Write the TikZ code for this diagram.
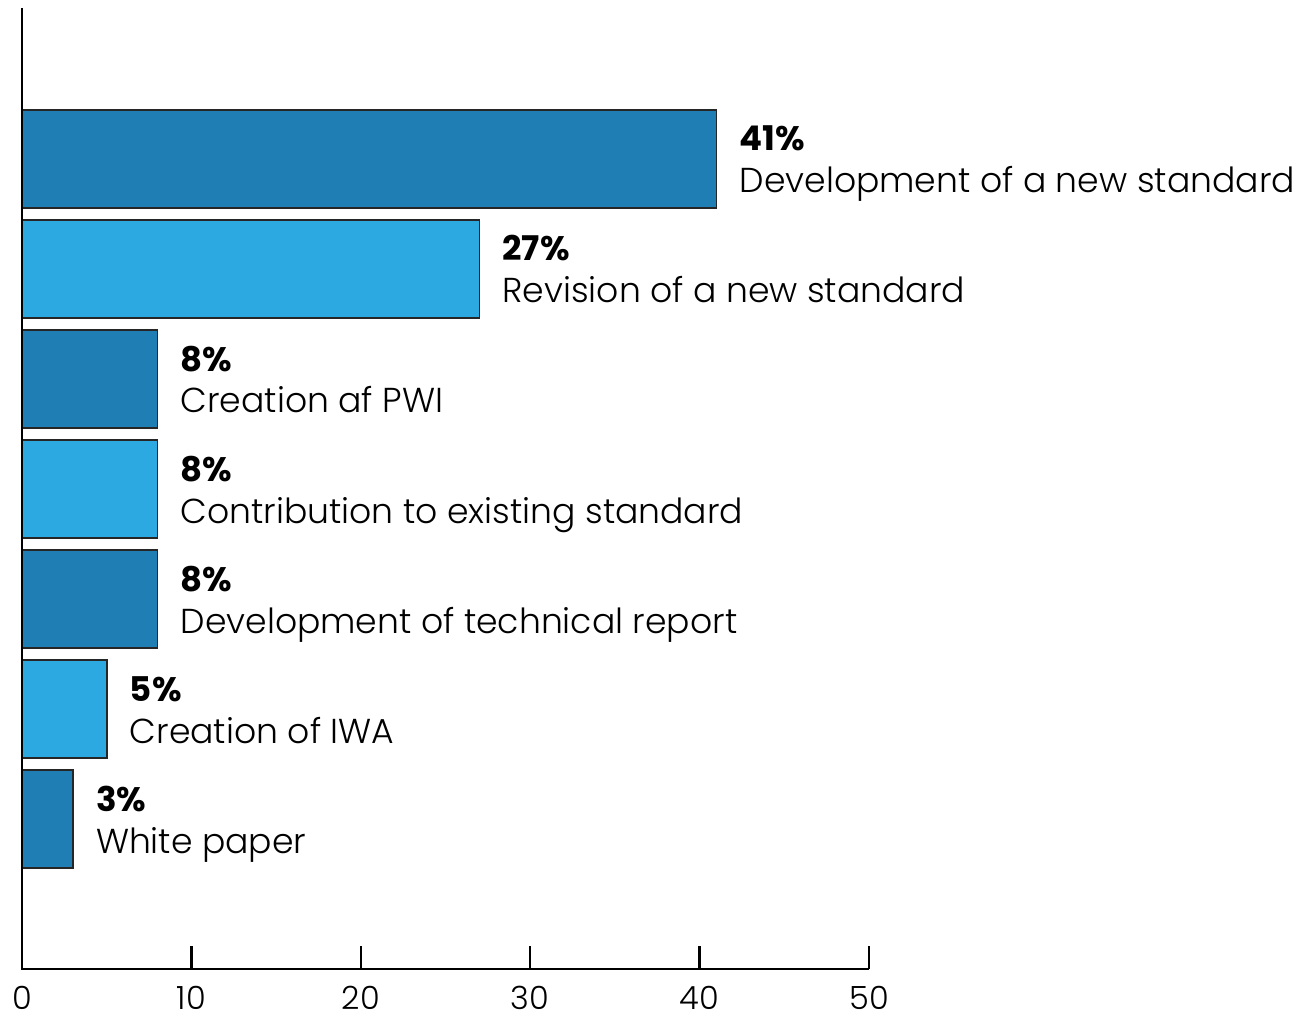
\documentclass[tikz,border=0pt]{standalone}
\usepackage{fontspec}
\setmainfont{Poppins}[UprightFont=* Light, BoldFont=* Bold]
\definecolor{dk}{RGB}{31,127,181}
\definecolor{lt}{RGB}{45,169,225}
\tikzset{
  barbox/.style={draw=black!85, line width=1.6pt},
  pct/.style={font=\fontsize{34}{34}\selectfont\bfseries, inner sep=0pt, anchor=base west},
  desc/.style={font=\fontsize{34.6}{35}\selectfont, inner sep=0pt, anchor=base west},
  ticklab/.style={font=\fontsize{32}{32}\selectfont, inner sep=0pt},
  axis/.style={line width=2.6pt, black}
}
\begin{document}
\begin{tikzpicture}[x=1pt,y=-1pt]
\useasboundingbox (0,0) rectangle (1299,1016);
\def\u{16.94}
\foreach \v/\col/\p/\t [count=\i] in {
  41/dk/41\%/Development of a new standard,
  27/lt/27\%/Revision of a new standard,
  8/dk/8\%/Creation af PWI,
  8/lt/8\%/Contribution to existing standard,
  8/dk/8\%/Development of technical report,
  5/lt/5\%/Creation of IWA,
  3/dk/3\%/White paper}
{
  \pgfmathsetmacro\tp{110+(\i-1)*110}
  \pgfmathsetmacro\xe{22+\v*\u}
  \draw[barbox, fill=\col] (22,\tp) rectangle (\xe,\tp+98);
  \node[pct] (p\i) at (\xe+23,\tp+41) {\p};
  \node[desc] (d\i) at (\xe+23,\tp+83) {\t};
}
% axes
\coordinate (top) at (22,8);
\coordinate (orig) at (22,969);
\coordinate (xend) at (869,969);
\draw[axis] (top) -- (orig) -- (xend);
\foreach \k in {1,...,5}{
  \draw[line width=2.4pt] (22+\k*169.4,946) -- (22+\k*169.4,969);
}
\foreach \k in {0,...,5}{
  \pgfmathtruncatemacro\lab{\k*10}
  \node[ticklab, anchor=base] (t\k) at (22+\k*169.4,1009) {\lab};
}
\end{tikzpicture}
\end{document}
